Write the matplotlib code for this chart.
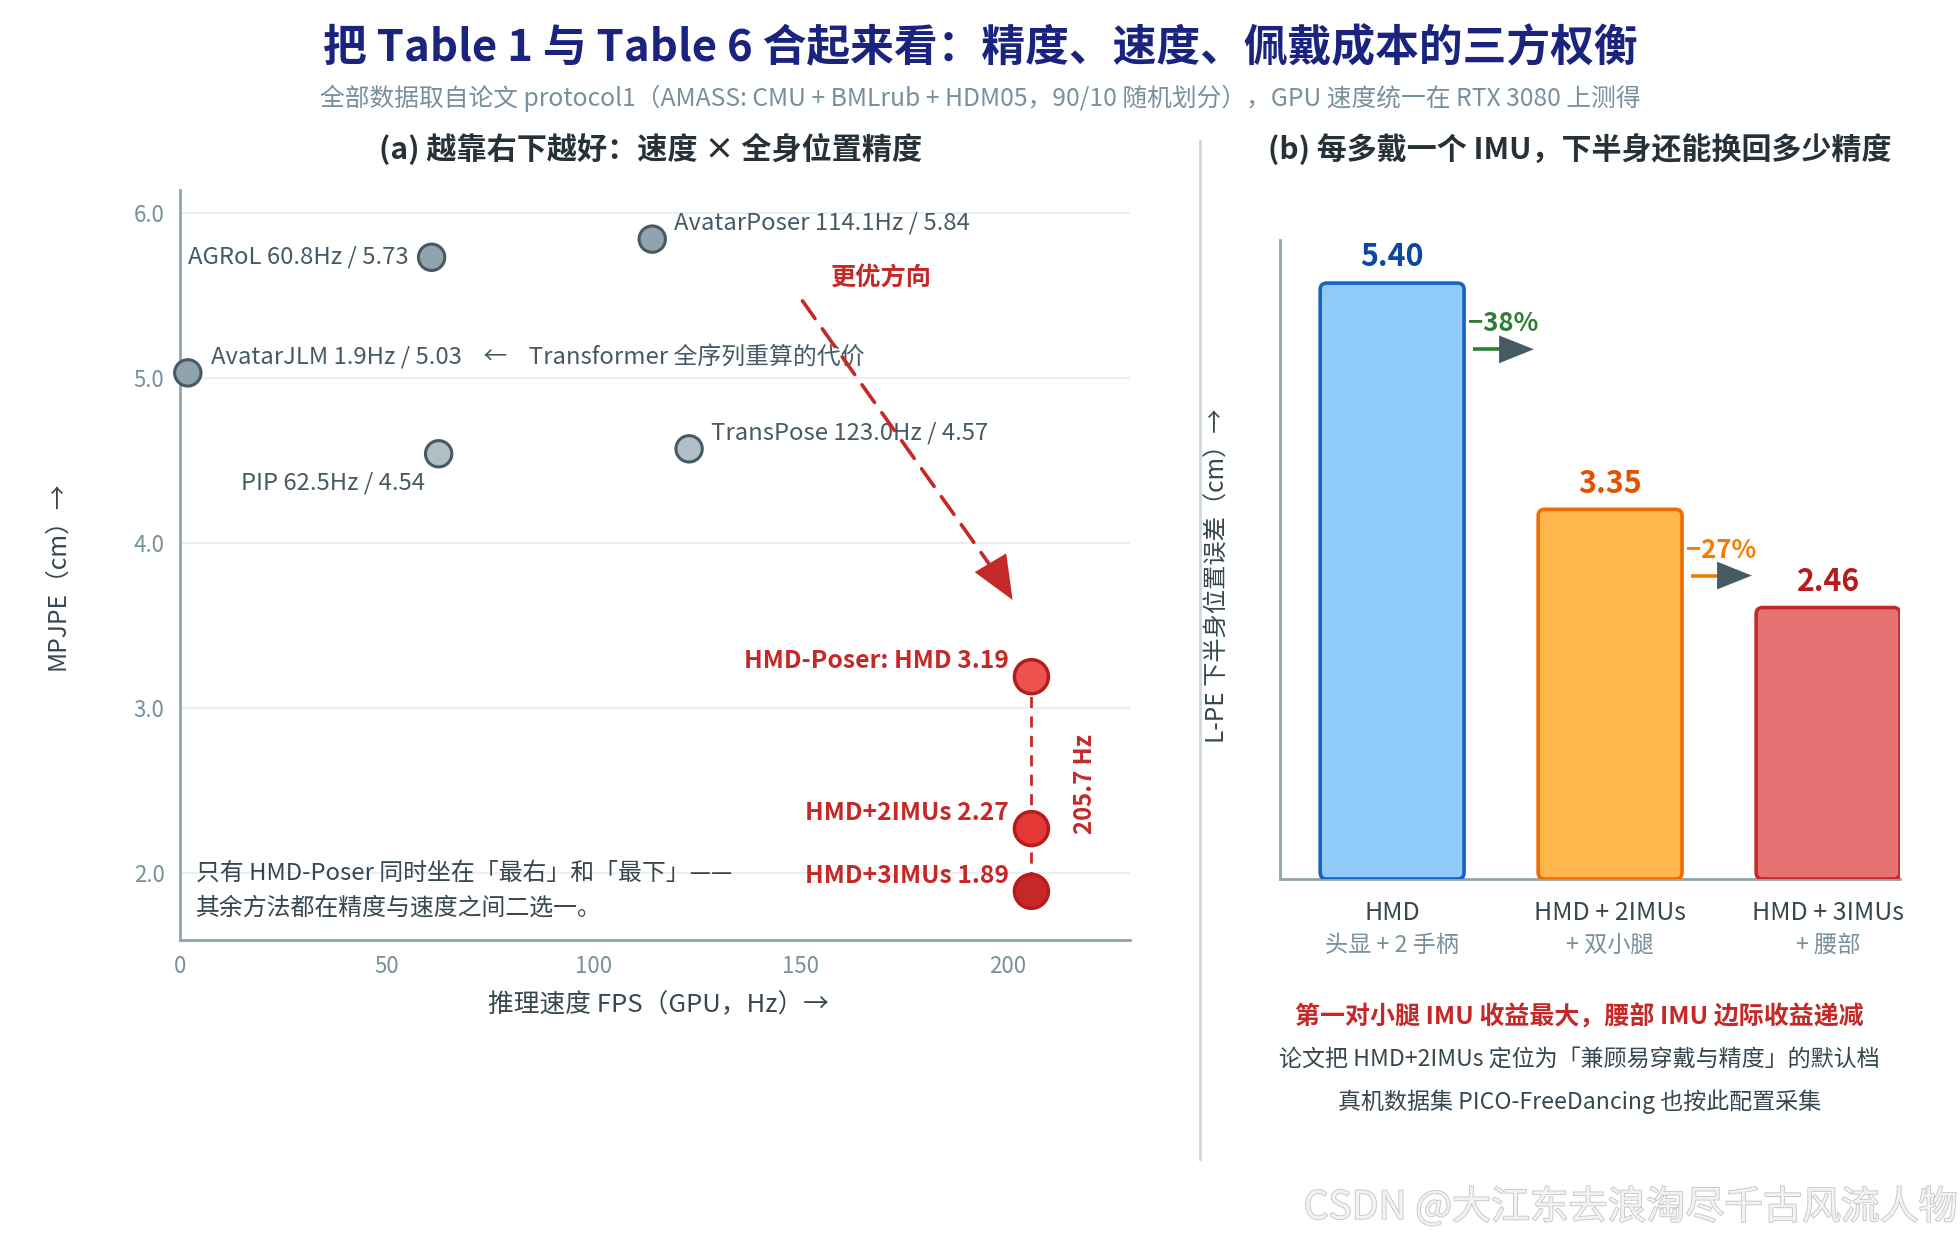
import numpy as np
import matplotlib.pyplot as plt
import matplotlib.patheffects as pe
from matplotlib.patches import FancyBboxPatch
from matplotlib.transforms import blended_transform_factory

plt.rcParams['font.family'] = ['Noto Sans CJK SC', 'DejaVu Sans']

# ---- data (Table 1 / Table 6) ----
methods = ['AGRoL', 'AvatarPoser', 'AvatarJLM', 'PIP', 'TransPose']
method_fps = [60.8, 114.1, 1.9, 62.5, 123.0]
method_mpjpe = [5.73, 5.84, 5.03, 4.54, 4.57]
method_fill = ['#90A4AE', '#90A4AE', '#90A4AE', '#B0BEC5', '#B0BEC5']

ours_names = ['HMD-Poser: HMD', 'HMD+2IMUs', 'HMD+3IMUs']
ours_fps = 205.7
ours_mpjpe = [3.19, 2.27, 1.89]
ours_fill = ['#EF5350', '#E53935', '#C62828']

configs = ['HMD', 'HMD + 2IMUs', 'HMD + 3IMUs']
config_sub = ['头显 + 2 手柄', '+ 双小腿', '+ 腰部']
lpe = [5.40, 3.35, 2.46]

DARK = '#455A64'
GREY = '#78909C'
RED = '#C62828'

fig = plt.figure(figsize=(19.6, 12.4), dpi=100)

fig.text(0.5, 0.961, '把 Table 1 与 Table 6 合起来看：精度、速度、佩戴成本的三方权衡',
         ha='center', va='center', fontsize=31.5, fontweight='bold', color='#1A237E')
fig.text(0.5, 0.921, '全部数据取自论文 protocol1（AMASS: CMU + BMLrub + HDM05，90/10 随机划分），GPU 速度统一在 RTX 3080 上测得',
         ha='center', va='center', fontsize=17.8, color=GREY)

# ---------------- (a) scatter ----------------
ax1 = fig.add_axes([0.0918, 0.2419, 0.4847, 0.6048])
ax1.set_xlim(0, 229.5)
ax1.set_ylim(1.595, 6.137)
ax1.set_yticks([2.0, 3.0, 4.0, 5.0, 6.0])
ax1.set_xticks([0, 50, 100, 150, 200])
ax1.yaxis.set_major_formatter(plt.FormatStrFormatter('%.1f'))
ax1.grid(axis='y', color='#ECEFF1', lw=1.6)
ax1.set_axisbelow(True)
for s in ['top', 'right']:
    ax1.spines[s].set_visible(False)
for s in ['left', 'bottom']:
    ax1.spines[s].set_color('#90A4AE')
    ax1.spines[s].set_linewidth(2)
ax1.tick_params(length=0, labelsize=16, labelcolor=GREY, pad=11)
fig.text(0.332, 0.88, '(a) 越靠右下越好：速度 × 全身位置精度', ha='center', va='center',
         fontsize=21.7, fontweight='bold', color='#263238')

ax1.scatter(method_fps, method_mpjpe, s=360, c=method_fill, edgecolors='#455A64',
            linewidths=2.2, zorder=5, clip_on=False)

label_style = {
    'AGRoL': ((-16.5, 0), 'right'),
    'AvatarPoser': ((15.5, 11.5), 'left'),
    'AvatarJLM': ((16.5, 11.5), 'left'),
    'PIP': ((-10, -21), 'right'),
    'TransPose': ((16, 11.5), 'left'),
}
for name, x, y in zip(methods, method_fps, method_mpjpe):
    txt = f'{name} {x:.1f}Hz / {y:.2f}'
    if name == 'AvatarJLM':
        txt += '    ←    Transformer 全序列重算的代价'
    off, ha = label_style[name]
    ax1.annotate(txt, (x, y), xytext=off, textcoords='offset points', ha=ha, va='center',
                 fontsize=17.2, color=DARK)

# ours
ax1.plot([ours_fps] * 2, [ours_mpjpe[0], ours_mpjpe[-1]], color=RED, lw=2,
         ls=(0, (4, 3)), zorder=3)
ax1.scatter([ours_fps] * len(ours_mpjpe), ours_mpjpe, s=600, c=ours_fill,
            edgecolors='#B71C1C', linewidths=2.5, zorder=6)
for name, y in zip(ours_names, ours_mpjpe):
    ax1.annotate(f'{name} {y:.2f}', (ours_fps, y), xytext=(-16.5, 11), textcoords='offset points',
                 ha='right', va='center', fontsize=17.8, fontweight='bold', color=RED)
ax1.text(ours_fps + 13, np.mean([ours_mpjpe[0], ours_mpjpe[-1]]), f'{ours_fps} Hz',
         rotation=90, ha='center', va='center', fontsize=17.2, fontweight='bold', color=RED)

# better direction arrow
ax1.annotate('', xy=(199.8, 3.72), xytext=(150, 5.48),
             arrowprops=dict(arrowstyle='-', color=RED, lw=2.6, ls=(0, (6, 3.5))))
ax1.annotate('', xy=(201.5, 3.64), xytext=(199.6, 3.72),
             arrowprops=dict(arrowstyle='-|>,head_length=1.3,head_width=0.55',
                             color=RED, lw=0, mutation_scale=24))
ax1.text(169.3, 5.61, '更优方向', ha='center', va='center', fontsize=18.2, fontweight='bold', color=RED)

ax1.text(0.0174, 0.066, '只有 HMD-Poser 同时坐在「最右」和「最下」——\n其余方法都在精度与速度之间二选一。',
         transform=ax1.transAxes, ha='left', va='center', fontsize=17.2, color='#37474F',
         linespacing=1.62)

ax1.set_xlabel('推理速度 FPS（GPU，Hz）→', fontsize=18.5, color='#37474F')
ax1.xaxis.set_label_coords(0.504, -0.069)
ax1.set_ylabel('MPJPE（cm）→', fontsize=17.8, color='#37474F')
ax1.yaxis.set_label_coords(-0.116, 0.486)

# separator
fig.add_artist(plt.Line2D([0.612, 0.612], [0.065, 0.886], color='#CFD8DC', lw=2))

# ---------------- (b) bars ----------------
ax2 = fig.add_axes([0.6531, 0.2911, 0.3163, 0.5153])
ax2.set_xlim(-0.514, 2.33)
ax2.set_ylim(0, 5.79)
for s in ['top', 'right']:
    ax2.spines[s].set_visible(False)
for s in ['left', 'bottom']:
    ax2.spines[s].set_color('#90A4AE')
    ax2.spines[s].set_linewidth(2)
ax2.set_xticks([])
ax2.set_yticks([])
fig.text(0.806, 0.88, '(b) 每多戴一个 IMU，下半身还能换回多少精度', ha='center', va='center',
         fontsize=21.6, fontweight='bold', color='#263238')

bar_fill = ['#90CAF9', '#FFB74D', '#E57373']
bar_edge = ['#1565C0', '#EF6C00', '#C62828']
val_color = ['#0D47A1', '#E65100', '#B71C1C']
width = 0.66
aspect = 218 / 110.4
for i, v in enumerate(lpe):
    box = FancyBboxPatch((i - width / 2, 0), width, v,
                         boxstyle='round,pad=0,rounding_size=0.03', mutation_aspect=aspect,
                         facecolor=bar_fill[i], edgecolor=bar_edge[i], lw=2.6, zorder=3)
    ax2.add_patch(box)
    ax2.annotate(f'{v:.2f}', (i, v), xytext=(0, 18.5), textcoords='offset points',
                 ha='center', va='center', fontsize=21.8, fontweight='bold', color=val_color[i])

trans = blended_transform_factory(ax2.transData, ax2.transAxes)
for i, (c, sub) in enumerate(zip(configs, config_sub)):
    ax2.text(i, -0.053, c, transform=trans, ha='center', va='center', fontsize=18, color='#37474F')
    ax2.text(i, -0.104, sub, transform=trans, ha='center', va='center', fontsize=16.7, color=GREY)

drop_color = ['#2E7D32', '#F57C00']
for i in range(len(lpe) - 1):
    pct = (lpe[i] - lpe[i + 1]) / lpe[i] * 100
    ax2.text(i + width / 2 + 0.02, lpe[i] - 0.37, f'−{pct:.0f}%', ha='left', va='center',
             fontsize=18.5, fontweight='bold', color=drop_color[i])
    ya = lpe[i] - 0.6
    ax2.plot([i + 0.371, i + 0.50], [ya, ya], color=drop_color[i], lw=2.6, solid_capstyle='butt')
    ax2.annotate('', xy=(i + 0.65, ya), xytext=(i + 0.64, ya),
                 arrowprops=dict(arrowstyle='-|>,head_length=1.0,head_width=0.4',
                                 color='#455A64', lw=0, mutation_scale=25))

ax2.set_ylabel('L-PE 下半身位置误差（cm）→', fontsize=17.5, color='#37474F')
ax2.yaxis.set_label_coords(-0.08, 0.474)

fig.text(0.806, 0.1798, '第一对小腿 IMU 收益最大，腰部 IMU 边际收益递减', ha='center', va='center',
         fontsize=18, fontweight='bold', color=RED)
fig.text(0.806, 0.1455, '论文把 HMD+2IMUs 定位为「兼顾易穿戴与精度」的默认档', ha='center', va='center',
         fontsize=16.6, color='#37474F')
fig.text(0.806, 0.1113, '真机数据集 PICO-FreeDancing 也按此配置采集', ha='center', va='center',
         fontsize=16.6, color='#37474F')

fig.text(0.9985, 0.026, 'CSDN @大江东去浪淘尽千古风流人物', ha='right', va='center', fontsize=28,
         color='#F2F2F2', path_effects=[pe.withStroke(linewidth=1.2, foreground='#C4C4C4')])

fig.savefig('out.png', dpi=100, facecolor='white')
